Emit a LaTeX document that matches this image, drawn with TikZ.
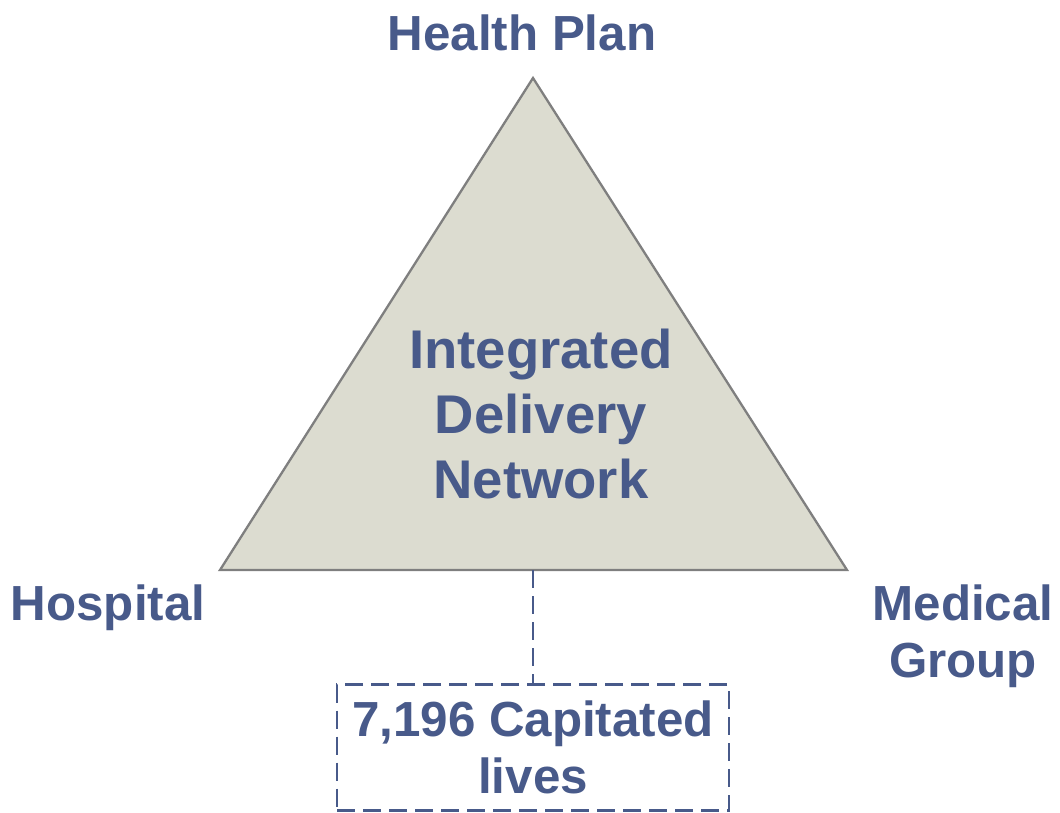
\documentclass[tikz,border=0pt]{standalone}
\usepackage{fontspec}
\setmainfont{Liberation Sans}
\definecolor{txt}{HTML}{485A8A}
\definecolor{trifill}{HTML}{DCDCD0}
\definecolor{tristroke}{HTML}{7F7F7F}
\begin{document}
\begin{tikzpicture}[x=1pt,y=-1pt,
  lbl/.style={text=txt,font=\fontsize{49.3}{57}\selectfont\bfseries,align=center,inner sep=0pt},
  biglbl/.style={text=txt,font=\fontsize{54.5}{65}\selectfont\bfseries,align=center,inner sep=0pt},
  dashline/.style={draw=txt,line width=2.3pt,dash pattern=on 18pt off 8pt}]
\useasboundingbox (0,0) rectangle (1060,813);
\coordinate (apex) at (533,78);
\coordinate (bl) at (220,570);
\coordinate (br) at (847,570);
\coordinate (bm) at (533,570);
\fill[trifill,draw=tristroke,line width=2.3pt,line join=miter] (apex) -- (br) -- (bl) -- cycle;
\node[lbl] (hp) at (522,33) {Health Plan};
\node[biglbl] (idn) at (541,414) {Integrated\\Delivery\\Network};
\node[lbl] (hosp) at (108,608) {Hospital};
\node[lbl] (mg) at (963,636) {Medical\\Group};
\node[lbl,dashline,minimum width=392pt,minimum height=126pt,inner sep=0pt] (cap) at (533,747.5) {7,196 Capitated\\lives};
\draw[dashline] (bm) -- (cap.north);
\end{tikzpicture}
\end{document}
